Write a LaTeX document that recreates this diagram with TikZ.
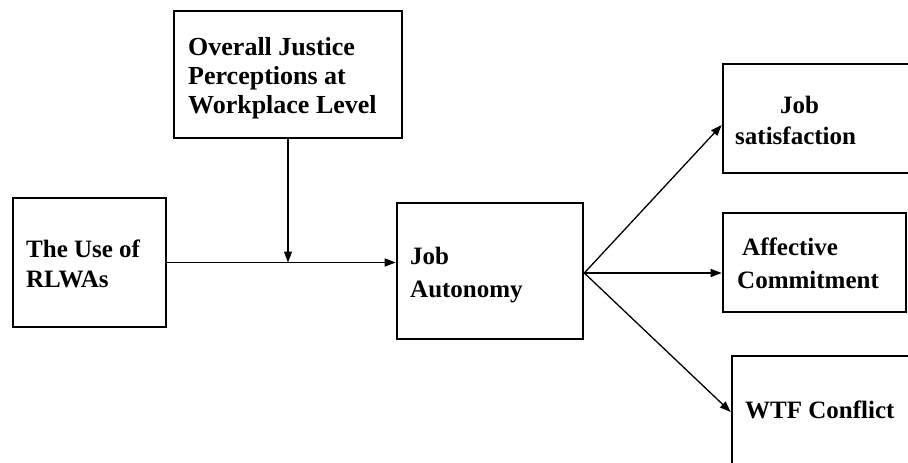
\documentclass[tikz,border=0pt]{standalone}
\usepackage{fontspec}
\setmainfont{Liberation Serif}
\usetikzlibrary{arrows.meta,calc}
\begin{document}
\begin{tikzpicture}[x=1pt,y=-1pt,
  box/.style={draw,line width=2.6pt,rectangle,inner sep=0pt},
  lbl/.style={anchor=base west,inner sep=0pt,font=\fontsize{25}{29}\selectfont\bfseries},
  biglbl/.style={lbl,font=\fontsize{26}{29}\selectfont\bfseries},
  conn/.style={line width=1.3pt,-{Triangle[length=11pt,width=8pt]}},
  plain/.style={line width=1.3pt}]
\useasboundingbox (0,0) rectangle (908,463);
\fill[white] (0,0) rectangle (908,463);
\clip (0,0) rectangle (908,463);
% boxes
\node[box,minimum width=228pt,minimum height=127pt] (just) at (288,74.5) {};
\node[box,minimum width=153pt,minimum height=129pt] (use) at (89.5,262.5) {};
\node[box,minimum width=186pt,minimum height=136pt] (auto) at (490,271) {};
\node[box,minimum width=220pt,minimum height=109pt] (sat) at (833,118.5) {};
\node[box,minimum width=183pt,minimum height=99pt] (aff) at (814.5,262.5) {};
\node[box,minimum width=220pt,minimum height=134pt] (wtf) at (842,423) {};
% labels
\node[biglbl] (just1) at (188,55) {Overall Justice};
\node[biglbl] (just2) at (188,84) {Perceptions at};
\node[biglbl] (just3) at (188,113) {Workplace Level};
\node[lbl] (use1) at (26,257) {The Use of};
\node[lbl] (use2) at (26,287) {RLWAs};
\node[lbl] (auto1) at (410,264) {Job};
\node[lbl] (auto2) at (410,297) {Autonomy};
\node[lbl] (sat1) at (780,113) {Job};
\node[lbl] (sat2) at (735,144) {satisfaction};
\node[lbl] (aff1) at (742,255) {Affective};
\node[lbl] (aff2) at (737,288) {Commitment};
\node[lbl] (wtf1) at (745,418) {WTF Conflict};
% connectors
\coordinate (mod) at (just.south |- use.east);
\draw[conn] (use.east) -- (use.east -| auto.west);
\draw[conn] (just.south) -- (mod);
\coordinate (fan) at ([yshift=-2pt]auto.east);
\draw[conn] (fan) -- ([yshift=-6.5pt]sat.west);
\draw[conn] (fan) -- (fan -| aff.west);
\draw[conn] (fan) -- ([yshift=11pt]wtf.west);
\end{tikzpicture}
\end{document}
